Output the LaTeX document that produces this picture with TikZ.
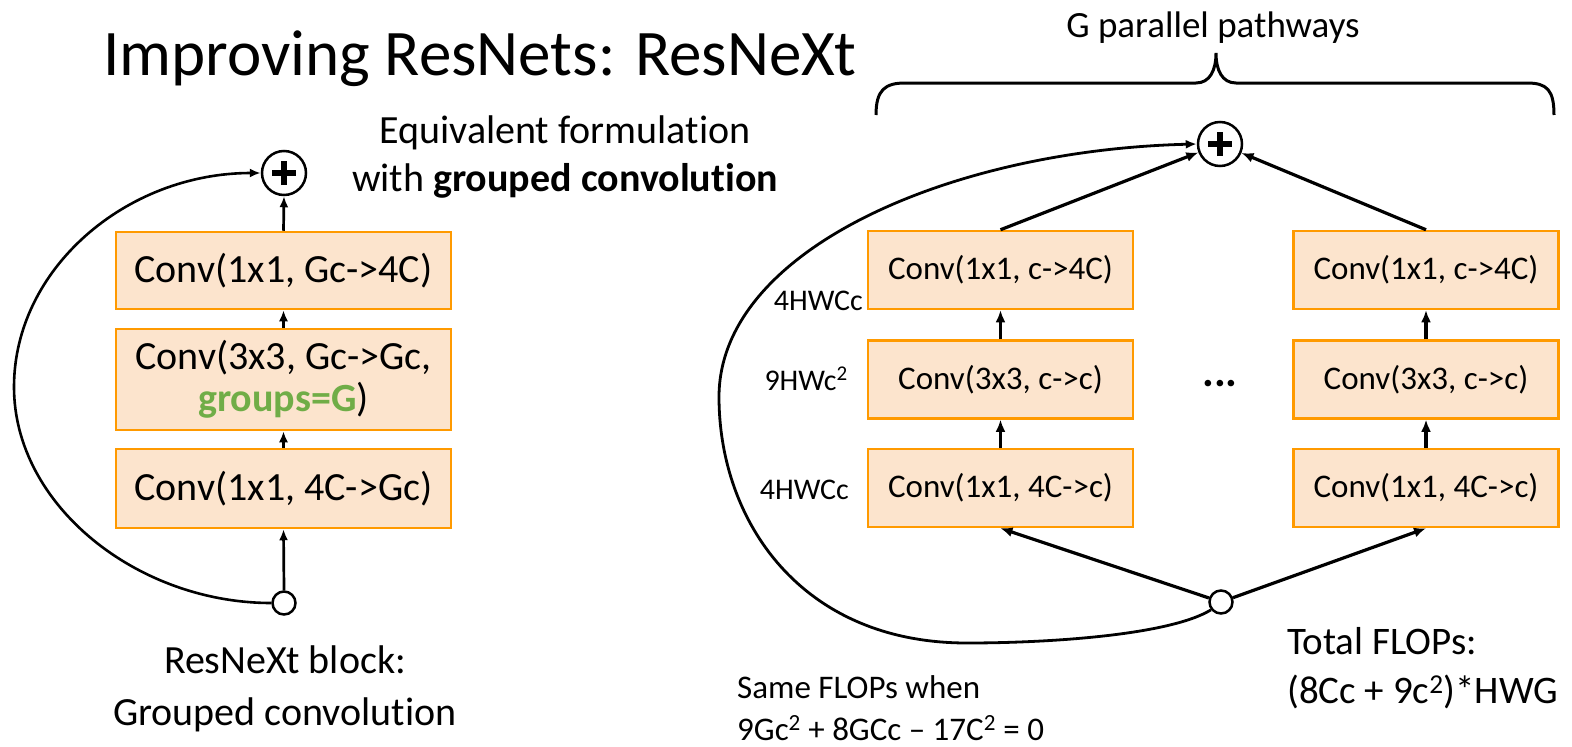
\documentclass[tikz,border=0pt]{standalone}
\usepackage{fontspec}
\setmainfont{Carlito}[Ligatures=NoCommon]
\usetikzlibrary{arrows.meta}
\definecolor{boxfill}{HTML}{FCE4CD}
\definecolor{boxline}{HTML}{FF9A00}
\definecolor{grp}{HTML}{70AD47}
\begin{document}
\begin{tikzpicture}[x=1pt,y=-1pt,
  conv/.style={draw=boxline, fill=boxfill, line width=2.5pt, inner sep=0pt, align=center},
  convL/.style={conv, minimum width=335pt, font=\fontsize{40}{42}\selectfont},
  convR/.style={conv, minimum width=265pt, minimum height=78pt, font=\fontsize{33}{36}\selectfont},
  arrL/.style={-{Latex[length=11pt,width=9pt]}, line width=2.7pt},
  arrR/.style={-{Latex[length=12pt,width=10pt]}, line width=3.2pt},
  sumnode/.style={circle, draw, line width=2.5pt, minimum size=44pt, inner sep=0pt, fill=white},
  splitnode/.style={circle, draw, line width=2.5pt, minimum size=23pt, inner sep=0pt, fill=white},
  plusbar/.style={line width=6.5pt},
  txt40/.style={font=\fontsize{40}{48}\selectfont, inner sep=0pt},
  txt39/.style={font=\fontsize{39}{46}\selectfont, inner sep=0pt},
  txt33/.style={font=\fontsize{33}{40}\selectfont, inner sep=0pt},
  txt30/.style={font=\fontsize{30}{36}\selectfont, inner sep=0pt},
  txt37/.style={font=\fontsize{37}{44}\selectfont, inner sep=0pt},
  brace/.style={line width=3pt}
]
\useasboundingbox (0,0) rectangle (1572,747);
\fill[white] (0,0) rectangle (1572,747);

% title
\node[font=\fontsize{65}{78}\selectfont, inner sep=0pt, anchor=base west] (title) at (103,75) {Improving ResNets: ResNeXt};

% left block
\node[convL, minimum height=77pt] (b1) at (283.5,270.5) {Conv(1x1, Gc->4C)};
\node[convL, minimum height=101pt] (b2) at (283.5,379.5) {Conv(3x3, Gc->Gc,\\\textbf{\color{grp}groups=G})};
\node[convL, minimum height=79pt] (b3) at (283.5,488.5) {Conv(1x1, 4C->Gc)};
\node[sumnode] (pl) at (284,173) {};
\draw[plusbar] ([xshift=-12pt]pl.center) -- ([xshift=12pt]pl.center);
\draw[plusbar] ([yshift=-12pt]pl.center) -- ([yshift=12pt]pl.center);
\node[splitnode] (bl) at (284,603) {};
\coordinate (cL) at (14,387);
\draw[arrL] (bl.north) -- (b3.south);
\draw[arrL] (b3.north) -- (b2.south);
\draw[arrL] (b2.north) -- (b1.south);
\draw[arrL] (b1.north) -- (pl.south);
\draw[arrL, line width=2.6pt] (bl.west) .. controls (137,603) and (14,505) .. (cL) .. controls (14,269) and (126,173) .. (pl.west);

\node[txt40, anchor=base] (eq1) at (565,143) {Equivalent formulation};
\node[txt40, anchor=base] (eq2) at (565,191) {with \textbf{grouped convolution}};
\node[txt40, anchor=base] (lb1) at (285,673) {ResNeXt block:};
\node[txt40, anchor=base] (lb2) at (285,725) {Grouped convolution};

% right block
\node[convR] (r1a) at (1000.5,270) {Conv(1x1, c->4C)};
\node[convR] (r2a) at (1000.5,379.5) {Conv(3x3, c->c)};
\node[convR] (r3a) at (1000.5,488) {Conv(1x1, 4C->c)};
\node[convR] (r1b) at (1426,270) {Conv(1x1, c->4C)};
\node[convR] (r2b) at (1426,379.5) {Conv(3x3, c->c)};
\node[convR] (r3b) at (1426,488) {Conv(1x1, 4C->c)};
\node[sumnode] (pr) at (1220,144) {};
\draw[plusbar] ([xshift=-12pt]pr.center) -- ([xshift=12pt]pr.center);
\draw[plusbar] ([yshift=-12pt]pr.center) -- ([yshift=12pt]pr.center);
\node[splitnode] (br) at (1221,602) {};
\draw[arrR] (r3a.north) -- (r2a.south);
\draw[arrR] (r2a.north) -- (r1a.south);
\draw[arrR] (r3b.north) -- (r2b.south);
\draw[arrR] (r2b.north) -- (r1b.south);
\draw[arrR] (r1a.north) -- (pr);
\draw[arrR] (r1b.north) -- (pr);
\draw[arrR] (br) -- (r3a.south);
\draw[arrR] (br) -- (r3b.south);
\coordinate (cB) at (967,643);
\coordinate (cR) at (719,397);
\draw[arrL, line width=2.8pt] (br.218) .. controls (1170,635) and (1050,643) .. (cB) .. controls (800,643) and (719,520) .. (cR) .. controls (719,250) and (950,150) .. (pr.west);

\node[txt30, anchor=base east] (f1) at (863,310) {4HWCc};
\node[txt30, anchor=base east] (f2) at (848,390) {9HWc\textsuperscript{2}};
\node[txt30, anchor=base east] (f3) at (849,499) {4HWCc};
\node[font=\fontsize{44}{50}\selectfont\bfseries, inner sep=0pt, anchor=base] (dots) at (1220,386) {...};

% brace
\draw[brace] (876,115) .. controls (876,90) and (885,83) .. (905,83) -- (1196,83) .. controls (1210,83) and (1216,70) .. (1216,53) .. controls (1216,70) and (1222,83) .. (1236,83) -- (1527,83) .. controls (1547,83) and (1554,90) .. (1554,115);
\node[txt37, anchor=base] (gp) at (1213,37) {G parallel pathways};

\node[txt33, anchor=base west] (s1) at (737,698) {Same FLOPs when};
\node[txt33, anchor=base west] (s2) at (737,740) {9Gc\textsuperscript{2} + 8GCc – 17C\textsuperscript{2} = 0};
\node[txt39, anchor=base west] (t1) at (1287,654) {Total FLOPs:};
\node[txt39, anchor=base west] (t2) at (1287,703) {(8Cc + 9c\textsuperscript{2})*HWG};
\end{tikzpicture}
\end{document}
